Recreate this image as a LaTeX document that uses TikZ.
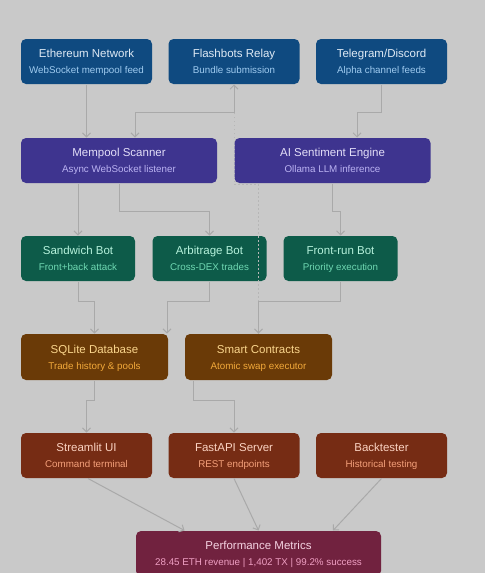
\documentclass[tikz,border=0pt]{standalone}
\usepackage{fontspec}
\setmainfont{Liberation Sans}
\usetikzlibrary{arrows.meta}

\definecolor{canvas}{HTML}{C9C9C9}
\definecolor{wire}{HTML}{A9A9A9}
\definecolor{blueF}{HTML}{0F4A80}  \definecolor{blueT}{HTML}{DFEAF5}  \definecolor{blueS}{HTML}{9FCBF0}
\definecolor{violF}{HTML}{3E348F}  \definecolor{violT}{HTML}{E3DEF8}  \definecolor{violS}{HTML}{BBB3F2}
\definecolor{grenF}{HTML}{0D5B49}  \definecolor{grenT}{HTML}{B6F2DC}  \definecolor{grenS}{HTML}{6FD8B2}
\definecolor{ochrF}{HTML}{6A3A07}  \definecolor{ochrT}{HTML}{FAD58C}  \definecolor{ochrS}{HTML}{F2A93A}
\definecolor{rustF}{HTML}{762C14}  \definecolor{rustT}{HTML}{FBD3C2}  \definecolor{rustS}{HTML}{F4A07A}
\definecolor{wineF}{HTML}{71223F}  \definecolor{wineT}{HTML}{F5D3E2}  \definecolor{wineS}{HTML}{EF9FC3}

% title line + coloured subtitle line
\newcommand{\twolines}[2]{#1\\{\color{subc}\fontsize{9.8}{16}\selectfont #2}}

\begin{document}
\begin{tikzpicture}[x=1pt,y=1pt,->,>={Straight Barb[length=4pt,width=8pt]},draw=wire,line width=1pt]
	\def \rowone{-61.5}
	\def \rowtwo{-160.5}
	\def \rowthree{-258.5}
	\def \rowfour{-357}
	\def \rowfive{-455.5}
	\def \rowsix{-553.5}

	\tikzstyle{box}=[draw=none,rounded corners=5pt,inner sep=0pt,minimum height=45pt,align=center,text depth=-1.5pt,font=\fontsize{11.5}{16}\selectfont]
	\tikzstyle{src-node}=[box,fill=blueF,text=blueT,minimum width=131pt,execute at begin node=\colorlet{subc}{blueS}]
	\tikzstyle{core-node}=[box,fill=violF,text=violT,minimum width=196pt,execute at begin node=\colorlet{subc}{violS}]
	\tikzstyle{bot-node}=[box,fill=grenF,text=grenT,minimum width=114pt,execute at begin node=\colorlet{subc}{grenS}]
	\tikzstyle{store-node}=[box,fill=ochrF,text=ochrT,minimum width=147pt,minimum height=46pt,execute at begin node=\colorlet{subc}{ochrS}]
	\tikzstyle{out-node}=[box,fill=rustF,text=rustT,minimum width=131pt,execute at begin node=\colorlet{subc}{rustS}]
	\tikzstyle{sum-node}=[box,fill=wineF,text=wineT,minimum width=245pt,execute at begin node=\colorlet{subc}{wineS}]
	\tikzstyle{dots}=[draw=wire!85!white,dash pattern=on 1.2pt off 2.8pt,
		>={Straight Barb[length=4pt,width=8pt,color=wire]}]

	% canvas, cut at the bottom like the reference
	\fill[canvas] (0,0) rectangle (485,-573);
	\useasboundingbox (0,0) rectangle (485,-573);

	% inputs
	\node[src-node]	(eth)	at (86.5,\rowone)	{\twolines{Ethereum Network}{WebSocket mempool feed}};
	\node[src-node]	(fbr)	at (234,\rowone)	{\twolines{Flashbots Relay}{Bundle submission}};
	\node[src-node]	(tgd)	at (381.5,\rowone)	{\twolines{Telegram/Discord}{Alpha channel feeds}};

	% engines
	\node[core-node]	(msc)	at (119,\rowtwo)	{\twolines{Mempool Scanner}{Async WebSocket listener}};
	\node[core-node]	(ase)	at (332.5,\rowtwo)	{\twolines{AI Sentiment Engine}{Ollama LLM inference}};

	% bots
	\node[bot-node]	(swb)	at (78,\rowthree)	{\twolines{Sandwich Bot}{Front+back attack}};
	\node[bot-node]	(arb)	at (209.5,\rowthree)	{\twolines{Arbitrage Bot}{Cross-DEX trades}};
	\node[bot-node]	(frb)	at (340.5,\rowthree)	{\twolines{Front-run Bot}{Priority execution}};

	% storage / chain
	\node[store-node]	(sql)	at (94.5,\rowfour)	{\twolines{SQLite Database}{Trade history \& pools}};
	\node[store-node]	(smc)	at (258.5,\rowfour)	{\twolines{Smart Contracts}{Atomic swap executor}};

	% front ends
	\node[out-node]	(stu)	at (86.5,\rowfive)	{\twolines{Streamlit UI}{Command terminal}};
	\node[out-node]	(api)	at (234,\rowfive)	{\twolines{FastAPI Server}{REST endpoints}};
	\node[out-node]	(bkt)	at (381.5,\rowfive)	{\twolines{Backtester}{Historical testing}};

	\node[sum-node]	(pfm)	at (258.5,\rowsix)	{\twolines{Performance Metrics}{28.45 ETH revenue | 1,402 TX | 99.2\% success}};

	% dotted return path to the relay
	\draw[dots] (smc.north) -- ++(0,149) -| (fbr.south);

	\draw (eth.south) -- (eth |- msc.north);
	\draw (fbr.south) -- ++(0,-28) -| ([xshift=16pt]msc.north);
	\draw (tgd.south) -- ++(0,-28) -| ([xshift=24.5pt]ase.north);

	\draw (swb |- msc.south) -- (swb.north);
	\draw (msc.south) -- ++(0,-28) -| (arb.north);
	\draw (ase.south) -- ++(0,-28) -| (frb.north);

	\draw (swb.south) -- ++(0,-20) -| (sql.north);
	\draw (arb.south) -- ++(0,-20) -| ([xshift=72.5pt]sql.north);
	\draw (frb.south) -- ++(0,-20) -| (smc.north);

	\draw (sql.south) -- ++(0,-20) -| (stu.north);
	\draw ([xshift=-65.5pt]smc.south) -- ++(0,-20) -| (api.north);

	\draw ([xshift=1.5pt]stu.south) -- ([xshift=-74pt]pfm.north);
	\draw (api.south) -- (pfm.north);
	\draw (bkt.south) -- ([xshift=74.5pt]pfm.north);
\end{tikzpicture}
\end{document}
